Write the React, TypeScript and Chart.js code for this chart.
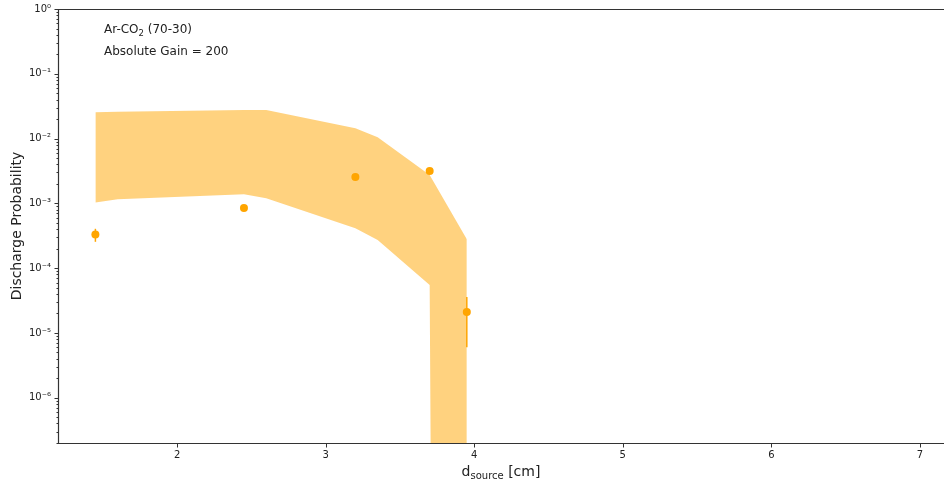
import { useEffect, useRef } from "react";
import { Chart, registerables } from "chart.js";

Chart.register(...registerables);

// ---- data ----
const pointX = [1.45, 2.45, 3.2, 3.7, 3.95];
const pointY = [3.3e-4, 8.5e-4, 2.55e-3, 3.15e-3, 2.1e-5];
const pointErr = [7.5e-5, 5e-5, 1.5e-4, 1.5e-4, 1.5e-5];

const bandX = [1.45, 1.6, 2.45, 2.6, 3.2, 3.35, 3.7, 3.95];
const bandUpper = [2.55e-2, 2.6e-2, 2.76e-2, 2.76e-2, 1.44e-2, 1.05e-2, 2.75e-3, 2.79e-4];
const bandLower = [1.03e-3, 1.16e-3, 1.38e-3, 1.2e-3, 4.13e-4, 2.72e-4, 5.5e-5, 1e-100];

const xTicks = [2, 3, 4, 5, 6, 7];
const yDecades = [-7, -6, -5, -4, -3, -2, -1, 0];

const X_MIN = 1.205;
const X_MAX = 7.162;
const Y_MIN = 2e-7;
const Y_MAX = 1;

const ORANGE = "#FFA500";
const BAND = "rgba(255,165,0,0.5)";
const FONT = "'DejaVu Sans', sans-serif";
const TEXT = "#222";

const SUP: Record<string, string> = {
  "-": "⁻", "0": "⁰", "1": "¹", "2": "²", "3": "³", "4": "⁴",
  "5": "⁵", "6": "⁶", "7": "⁷", "8": "⁸", "9": "⁹",
};
const powLabel = (e: number) =>
  "10" + String(e).split("").map((c) => SUP[c]).join("");

const yTickValues: number[] = [];
yDecades.forEach((e) => {
  for (let m = 1; m <= 9; m++) {
    const v = m * Math.pow(10, e);
    if (v >= Y_MIN * 0.999 && v <= Y_MAX * 1.001) yTickValues.push(v);
  }
});
const isMajor = (v: number) => {
  const l = Math.log10(v);
  return Math.abs(l - Math.round(l)) < 1e-6;
};

function drawRuns(
  ctx: CanvasRenderingContext2D,
  runs: [string, number, number][],
  x: number,
  y: number,
  align: "left" | "center"
) {
  let total = 0;
  runs.forEach(([t, s]) => {
    ctx.font = `${s}px ${FONT}`;
    total += ctx.measureText(t).width;
  });
  let cx = align === "center" ? x - total / 2 : x;
  ctx.textAlign = "left";
  ctx.textBaseline = "alphabetic";
  runs.forEach(([t, s, dy]) => {
    ctx.font = `${s}px ${FONT}`;
    ctx.fillText(t, cx, y + dy);
    cx += ctx.measureText(t).width;
  });
}

const zeroPad = (s: any) => {
  s.paddingTop = 0;
  s.paddingBottom = 0;
  s.paddingLeft = 0;
  s.paddingRight = 0;
};

const decor = {
  id: "decor",
  beforeDatasetDraw(chart: any, args: any) {
    if (args.index !== 2) return;
    const { ctx, scales } = chart;
    const x = scales.x;
    const y = scales.y;
    ctx.save();
    ctx.strokeStyle = ORANGE;
    ctx.lineWidth = 1.5;
    pointX.forEach((px, i) => {
      const cx = x.getPixelForValue(px);
      const y1 = y.getPixelForValue(pointY[i] - pointErr[i]);
      const y2 = y.getPixelForValue(pointY[i] + pointErr[i]);
      ctx.beginPath();
      ctx.moveTo(cx, y1);
      ctx.lineTo(cx, y2);
      ctx.stroke();
    });
    ctx.restore();
  },
  afterDraw(chart: any) {
    const { ctx, chartArea: a, scales } = chart;
    const x = scales.x;
    const y = scales.y;
    ctx.save();
    ctx.strokeStyle = "#333";
    ctx.lineWidth = 1.2;
    const L = Math.floor(a.left) - 0.5;
    const R = a.right + 2;
    const T = Math.floor(a.top) + 0.5;
    const B = Math.floor(a.bottom) + 0.5;
    ctx.beginPath();
    ctx.moveTo(R, T);
    ctx.lineTo(L, T);
    ctx.lineTo(L, B);
    ctx.lineTo(R, B);
    ctx.stroke();
    ctx.lineWidth = 1;
    yTickValues.forEach((v) => {
      const py = Math.round(y.getPixelForValue(v)) + 0.5;
      if (py < T - 1 || py > B + 1) return;
      const len = isMajor(v) ? 4 : 2;
      ctx.beginPath();
      ctx.moveTo(L - len, py);
      ctx.lineTo(L, py);
      ctx.stroke();
    });
    xTicks.forEach((v) => {
      const px = Math.round(x.getPixelForValue(v)) + 0.5;
      ctx.beginPath();
      ctx.moveTo(px, B);
      ctx.lineTo(px, B + 4);
      ctx.stroke();
    });
    ctx.fillStyle = TEXT;
    drawRuns(ctx, [["Ar-CO", 12, 0], ["2", 8.5, 3], [" (70-30)", 12, 0]], 104, 33, "left");
    drawRuns(ctx, [["Absolute Gain = 200", 12, 0]], 104, 55, "left");
    drawRuns(
      ctx,
      [["d", 14, 0], ["source", 10, 3], [" [cm]", 14, 0]],
      501,
      476,
      "center"
    );
    ctx.save();
    ctx.translate(21, (a.top + a.bottom) / 2);
    ctx.rotate(-Math.PI / 2);
    ctx.font = `14px ${FONT}`;
    ctx.textAlign = "center";
    ctx.textBaseline = "alphabetic";
    ctx.fillText("Discharge Probability", 0, 0);
    ctx.restore();
    ctx.restore();
  },
};

export default function App() {
  const ref = useRef<HTMLCanvasElement | null>(null);
  useEffect(() => {
    if (!ref.current) return;
    const chart = new Chart(ref.current, {
      type: "line",
      data: {
        datasets: [
          {
            data: bandX.map((v, i) => ({ x: v, y: bandUpper[i] })),
            fill: "+1",
            backgroundColor: BAND,
            borderColor: "rgba(0,0,0,0)",
            borderWidth: 0,
            pointRadius: 0,
            tension: 0,
            order: 2,
          },
          {
            data: bandX.map((v, i) => ({ x: v, y: bandLower[i] })),
            fill: false,
            backgroundColor: BAND,
            borderColor: "rgba(0,0,0,0)",
            borderWidth: 0,
            pointRadius: 0,
            tension: 0,
            order: 3,
          },
          {
            data: pointX.map((v, i) => ({ x: v, y: pointY[i] })),
            showLine: false,
            pointRadius: 4,
            pointBackgroundColor: ORANGE,
            pointBorderColor: ORANGE,
            pointBorderWidth: 0,
            backgroundColor: ORANGE,
            borderColor: ORANGE,
            order: 0,
          },
        ],
      },
      options: {
        animation: false,
        responsive: false,
        devicePixelRatio: 1,
        events: [],
        layout: { autoPadding: false, padding: { top: 9, right: 0, left: 0, bottom: 0 } },
        plugins: {
          legend: { display: false },
          tooltip: { enabled: false },
          title: { display: false },
        },
        scales: {
          x: {
            type: "linear",
            min: X_MIN,
            max: X_MAX,
            grid: { display: false, drawTicks: false },
            border: { display: false },
            afterBuildTicks: (s: any) => {
              s.ticks = xTicks.map((v) => ({ value: v }));
            },
            afterFit: (s: any) => {
              s.height = 41;
              zeroPad(s);
            },
            ticks: {
              autoSkip: false,
              maxRotation: 0,
              padding: 6,
              color: TEXT,
              font: { family: FONT, size: 10 },
              callback: (v: any) => String(v),
            },
          },
          y: {
            type: "logarithmic",
            min: Y_MIN,
            max: Y_MAX,
            grid: { display: false, drawTicks: false },
            border: { display: false },
            afterBuildTicks: (s: any) => {
              s.ticks = yTickValues.map((v) => ({ value: v, major: isMajor(v) }));
            },
            afterFit: (s: any) => {
              s.width = 59;
              zeroPad(s);
            },
            ticks: {
              autoSkip: false,
              padding: 8,
              color: TEXT,
              font: { family: FONT, size: 10 },
              callback: (v: any) => (isMajor(v) ? powLabel(Math.round(Math.log10(v))) : ""),
            },
          },
        },
      },
      plugins: [decor],
    } as any);
    return () => chart.destroy();
  }, []);
  return (
    <div style={{ position: "fixed", left: 0, top: 0, width: 944, height: 484, background: "#fff" }}>
      <canvas ref={ref} width={944} height={484} style={{ display: "block", width: 944, height: 484 }} />
    </div>
  );
}
